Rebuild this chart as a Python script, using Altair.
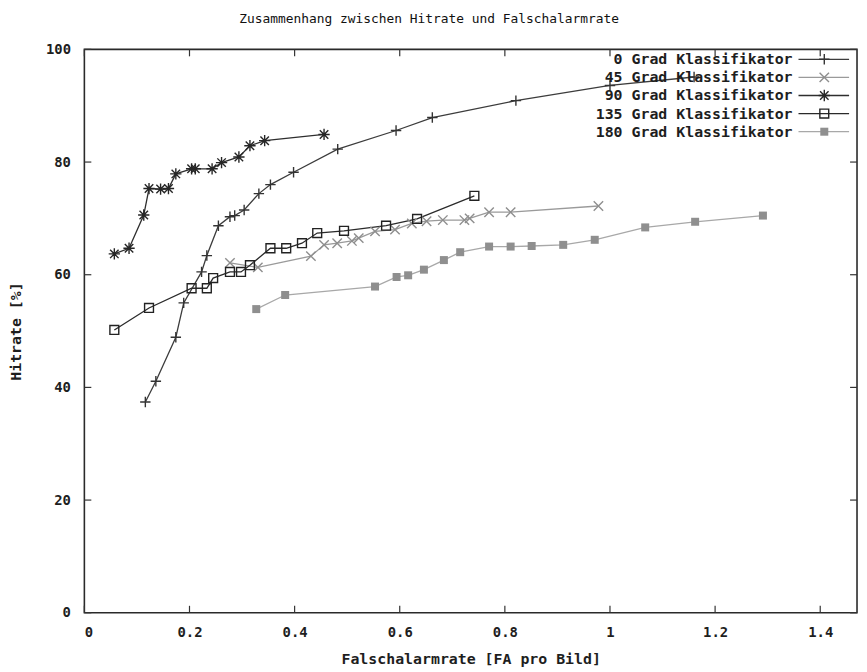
import altair as alt
import pandas as pd

series_names = ["0 Grad Klassifikator", "45 Grad Klassifikator", "90 Grad Klassifikator",
                "135 Grad Klassifikator", "180 Grad Klassifikator"]

fa_0 = [0.116, 0.136, 0.174, 0.189, 0.223, 0.233, 0.255, 0.277, 0.286, 0.304, 0.332, 0.354,
        0.398, 0.482, 0.593, 0.662, 0.821, 1.0, 1.16]
hr_0 = [37.4, 41.1, 48.9, 55.0, 60.5, 63.4, 68.7, 70.3, 70.5, 71.5, 74.4, 76.0,
        78.2, 82.3, 85.6, 87.9, 90.9, 93.6, 95.1]

fa_45 = [0.277, 0.330, 0.431, 0.456, 0.481, 0.509, 0.522, 0.553, 0.591, 0.623, 0.651, 0.682,
         0.723, 0.733, 0.770, 0.811, 0.978]
hr_45 = [62.1, 61.3, 63.3, 65.3, 65.6, 66.0, 66.5, 67.7, 68.0, 69.1, 69.5, 69.7,
         69.7, 70.0, 71.1, 71.1, 72.2]

fa_90 = [0.057, 0.085, 0.113, 0.123, 0.145, 0.160, 0.174, 0.204, 0.211, 0.243, 0.261, 0.294,
         0.315, 0.343, 0.456]
hr_90 = [63.7, 64.7, 70.6, 75.3, 75.2, 75.3, 77.9, 78.8, 78.8, 78.8, 79.9, 80.9,
         82.9, 83.8, 84.9]

fa_135 = [0.057, 0.123, 0.204, 0.233, 0.245, 0.277, 0.298, 0.315, 0.354, 0.384, 0.414, 0.443,
          0.494, 0.574, 0.633, 0.742]
hr_135 = [50.2, 54.1, 57.6, 57.6, 59.4, 60.5, 60.5, 61.7, 64.7, 64.7, 65.6, 67.4,
          67.8, 68.7, 69.9, 74.0]

fa_180 = [0.327, 0.382, 0.553, 0.594, 0.616, 0.646, 0.684, 0.715, 0.770, 0.811, 0.851, 0.911,
          0.971, 1.067, 1.162, 1.291]
hr_180 = [53.9, 56.4, 57.9, 59.6, 59.9, 60.9, 62.6, 64.0, 65.0, 65.0, 65.1, 65.3,
          66.2, 68.4, 69.4, 70.5]

x_ticks = [0, 0.2, 0.4, 0.6, 0.8, 1.0, 1.2, 1.4]
y_ticks = [0, 20, 40, 60, 80, 100]

title_text = "Zusammenhang zwischen Hitrate und Falschalarmrate"
x_title = "Falschalarmrate [FA pro Bild]"
y_title = "Hitrate [%]"

# ---- styling ----
FONT = "DejaVu Sans Mono"
W, H = 779, 568
line_colors = ["#3c3c3c", "#9a9a9a", "#2e2e2e", "#2a2a2a", "#a8a8a8"]
mark_colors = ["#333333", "#8e8e8e", "#262626", "#222222", "#8f8f8f"]
plus_path = "M-1,0H1M0,-1V1"
x_path = "M-1,-1L1,1M-1,1L1,-1"
star_path = "M-1,0H1M0,-1V1M-0.75,-0.75L0.75,0.75M-0.75,0.75L0.75,-0.75"
shapes = [plus_path, x_path, star_path, "square", "square"]
filled = [False, False, False, False, True]
sizes = [110, 90, 130, 80, 65]

all_fa = [fa_0, fa_45, fa_90, fa_135, fa_180]
all_hr = [hr_0, hr_45, hr_90, hr_135, hr_180]
rows = []
for name, fas, hrs in zip(series_names, all_fa, all_hr):
    for i, (a, b) in enumerate(zip(fas, hrs)):
        rows.append({"series": name, "fa": a, "hr": b, "idx": i})
df = pd.DataFrame(rows)

xs = alt.Scale(domain=[0, 1.47], nice=False, zero=False)
ys = alt.Scale(domain=[0, 100], nice=False, zero=False)
axis_font = dict(labelFont=FONT, labelFontSize=14, labelFontWeight="bold", labelColor="#1e1e1e",
                 titleFont=FONT, titleFontSize=15, titleFontWeight="bold", titleColor="#1e1e1e")
x_axis = alt.Axis(values=x_ticks, format="~g", title=x_title, grid=False, ticks=False,
                  tickSize=0, domain=False, labelPadding=13, titlePadding=12, **axis_font)
y_axis = alt.Axis(values=y_ticks, format="d", title=y_title, grid=False, ticks=False,
                  tickSize=0, domain=False, labelPadding=14, titlePadding=22, **axis_font)
X = alt.X("fa:Q", scale=xs, axis=x_axis)
Y = alt.Y("hr:Q", scale=ys, axis=y_axis)
color_scale = alt.Scale(domain=series_names, range=line_colors)

lines = alt.Chart(df).mark_line(strokeWidth=1.3).encode(
    x=X, y=Y,
    color=alt.Color("series:N", scale=color_scale, legend=None),
    order="idx:Q",
)

layers = [lines]
for i, name in enumerate(series_names):
    pts = alt.Chart(df).transform_filter(alt.datum.series == name).mark_point(
        shape=shapes[i], size=sizes[i], filled=filled[i], color=mark_colors[i],
        strokeWidth=1.4, opacity=1,
    ).encode(x=X, y=Y)
    layers.append(pts)

# inward ticks on all four sides (gnuplot style)
xt = pd.DataFrame({"v": x_ticks})
yt = pd.DataFrame({"v": y_ticks})
XT = alt.X("v:Q", scale=xs, axis=x_axis)
YT = alt.Y("v:Q", scale=ys, axis=y_axis)
tick_style = dict(color="#333333", strokeWidth=1.2)
layers += [
    alt.Chart(xt).mark_rule(**tick_style).encode(x=XT, y=alt.value(H), y2=alt.value(H - 7)),
    alt.Chart(xt).mark_rule(**tick_style).encode(x=XT, y=alt.value(0), y2=alt.value(7)),
    alt.Chart(yt).mark_rule(**tick_style).encode(y=YT, x=alt.value(0), x2=alt.value(7)),
    alt.Chart(yt).mark_rule(**tick_style).encode(y=YT, x=alt.value(W), x2=alt.value(W - 7)),
]
data_layer = alt.layer(*layers)

# gnuplot-style key: label, then sample line with marker
leg_df = pd.DataFrame({"series": series_names, "row": list(range(len(series_names)))})
LY = alt.Y("row:Q", scale=alt.Scale(domain=[0, len(series_names) - 1], range=[10, 83],
                                    nice=False, zero=False), axis=None)
leg_text = alt.Chart(leg_df).mark_text(
    align="right", baseline="middle", font=FONT, fontSize=15, fontWeight="bold", color="#1e1e1e"
).encode(x=alt.value(714), y=LY, text="series:N")
leg_rule = alt.Chart(leg_df).mark_rule(strokeWidth=1.3).encode(
    x=alt.value(720), x2=alt.value(771), y=LY,
    color=alt.Color("series:N", scale=color_scale, legend=None),
)
leg_layers = [leg_text, leg_rule]
for i, name in enumerate(series_names):
    leg_layers.append(
        alt.Chart(leg_df).transform_filter(alt.datum.series == name).mark_point(
            shape=shapes[i], size=sizes[i], filled=filled[i], color=mark_colors[i],
            strokeWidth=1.4, opacity=1,
        ).encode(x=alt.value(746), y=LY)
    )
legend_layer = alt.layer(*leg_layers)

chart = alt.layer(data_layer, legend_layer).resolve_scale(y="independent").properties(
    width=W, height=H,
    background="white",
    title=alt.Title(title_text, font=FONT, fontSize=13, fontWeight="normal", color="#111111",
                    anchor="middle", dx=-42, offset=17),
    autosize=alt.AutoSizeParams(type="none"),
    padding={"left": 77, "top": 39, "right": 2, "bottom": 55},
).configure_view(
    stroke="#2a2a2a", strokeWidth=1.6
).configure_axis(**axis_font)

chart.save("out.html", embed_options={"renderer": "svg", "actions": False})
